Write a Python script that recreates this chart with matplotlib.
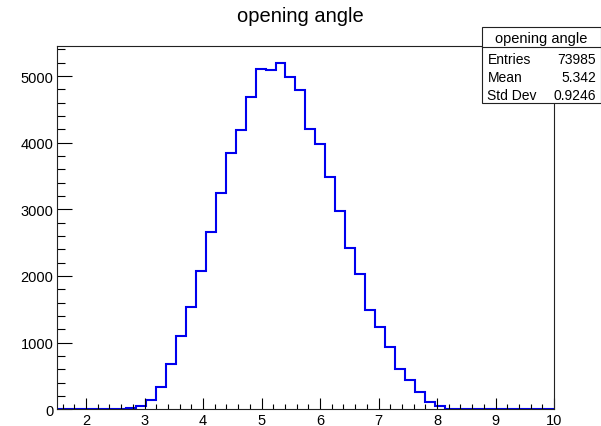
import numpy as np
import matplotlib
matplotlib.use("Agg")
import matplotlib.pyplot as plt
from matplotlib.patches import Rectangle
from matplotlib.lines import Line2D
from matplotlib.ticker import MultipleLocator

plt.rcParams['font.family'] = ['Liberation Sans', 'DejaVu Sans']

# histogram of the opening angle: 50 bins from 1.5 to 10
x_min, x_max, n_bins = 1.5, 10.0, 50
counts = [0, 0, 0, 0, 0, 0, 0, 15, 45, 135,
          340, 675, 1100, 1535, 2080, 2665, 3245, 3845, 4190, 4690,
          5100, 5090, 5195, 4990, 4790, 4205, 3975, 3480, 2980, 2415,
          2035, 1495, 1240, 935, 600, 445, 255, 105, 45, 5,
          0, 0, 0, 0, 0, 0, 0, 0, 0, 0]
stat_labels = ["Entries", "Mean", "Std Dev"]
stat_values = ["73985", "5.342", "0.9246"]
hist_name = "opening angle"

W, H = 601, 427
fig = plt.figure(figsize=(W / 100, H / 100), dpi=100)

def fx(px):
    return px / W

def fy(py):
    return 1 - py / H

left, right, top, bottom = 56.75, 554.0, 46.7, 410.3
ax = fig.add_axes([fx(left), fy(bottom), fx(right - left), (bottom - top) / H])

edges = np.linspace(x_min, x_max, n_bins + 1)
ax.stairs(counts, edges, color='#0000ee', linewidth=1.5)

ax.set_xlim(x_min, x_max)
ax.set_ylim(0, 1.05 * max(counts))
ax.xaxis.set_major_locator(MultipleLocator(1))
ax.xaxis.set_minor_locator(MultipleLocator(0.2))
ax.yaxis.set_major_locator(MultipleLocator(1000))
ax.yaxis.set_minor_locator(MultipleLocator(200))
ax.set_xticks(range(2, 11))

ax.tick_params(axis='y', which='major', direction='in', length=10.8, width=0.8,
               labelsize=10.5, pad=2.5)
ax.tick_params(axis='y', which='minor', direction='in', length=5.4, width=0.8)
ax.tick_params(axis='x', which='major', direction='in', length=7.8, width=0.8,
               labelsize=10.5, pad=3)
ax.tick_params(axis='x', which='minor', direction='in', length=3.9, width=0.8)
for s in ax.spines.values():
    s.set_linewidth(0.8)
    s.set_color('#222222')

fig.text(0.5, fy(17), hist_name, ha='center', va='center', fontsize=14.5)

# statistics box in the top right corner
bx0, by0, bx1, by1 = 481.5, 27.5, 600.5, 104.0
fig.add_artist(Rectangle((fx(bx0), fy(by1)), fx(bx1 - bx0), (by1 - by0) / H,
                         transform=fig.transFigure, facecolor='white',
                         edgecolor='#222222', linewidth=0.8, zorder=5))
fig.add_artist(Line2D([fx(bx0), fx(bx1)], [fy(48.3), fy(48.3)],
                      transform=fig.transFigure, color='#222222',
                      linewidth=0.8, zorder=6))
fig.text(fx(541), fy(38.5), hist_name, ha='center', va='center',
         fontsize=10.5, zorder=7)
for i, (lab, val) in enumerate(zip(stat_labels, stat_values)):
    yy = fy(60 + i * 18)
    fig.text(fx(487.5), yy, lab, ha='left', va='center', fontsize=10, zorder=7)
    fig.text(fx(596), yy, val, ha='right', va='center', fontsize=10, zorder=7)

fig.savefig("out.png", dpi=100)
